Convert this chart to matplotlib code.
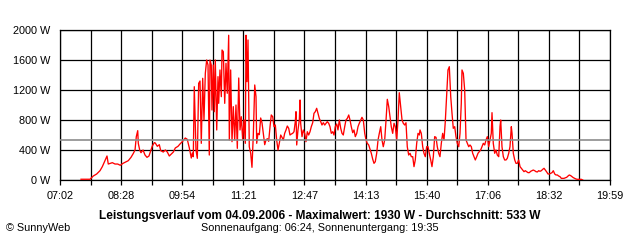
import matplotlib

matplotlib.use("Agg")
import matplotlib.pyplot as plt
import numpy as np

plt.rcParams["font.family"] = ["Liberation Sans", "DejaVu Sans"]

# time axis in minutes after midnight, power in W
START_MIN = 422   # 07:02
END_MIN = 1199    # 19:59
X_LABELS = ["07:02", "08:28", "09:54", "11:21", "12:47", "14:13", "15:40", "17:06", "18:32", "19:59"]
Y_TICKS = [0, 400, 800, 1200, 1600, 2000]

DATE = "04.09.2006"
MAX_W = 1930
AVG_W = 533
SUNRISE = "06:24"
SUNSET = "19:35"

MORNING_T = [451.7, 464.4, 469.0, 473.8, 478.5, 481.8, 485.6, 488.4, 490.2, 493.1, 495.9, 499.7,
             503.5, 507.2, 511.0, 514.8, 518.5, 522.3, 525.6, 528.0, 529.8, 531.8, 532.6, 534.6,
             536.4, 539.3, 542.1, 544.9, 547.7, 550.6, 552.4, 555.2, 556.6, 559.5, 562.3, 564.3,
             567.9, 570.8, 573.6, 576.4, 579.2, 582.1, 584.9, 588.7, 591.5, 595.3, 599.0, 601.8,
             604.7, 607.5, 608.9]
MORNING_W = [10, 10, 53, 80, 124, 178, 258, 320, 213, 222, 231, 213,
             213, 196, 222, 240, 258, 302, 355, 400, 578, 658, 489, 400,
             364, 400, 333, 302, 320, 400, 453, 498, 493, 449, 471, 391,
             373, 400, 373, 320, 347, 373, 427, 449, 480, 516, 560, 542,
             427, 293, 360]

MIDDAY_T = [610.3, 611.0, 611.7, 614.1, 616.0, 617.9, 619.8, 621.6, 623.6, 625.4, 627.3, 629.2,
            631.1, 632.9, 633.9, 635.7, 636.7, 638.6, 640.0, 641.4, 643.4, 645.2, 646.2, 648.0,
            649.9, 650.9, 652.7, 654.7, 656.5, 658.3, 660.3, 661.2, 663.1, 665.0, 666.8, 668.8,
            670.6, 672.5, 674.5, 676.3, 678.1, 680.1, 681.9, 683.8, 684.8, 686.2, 687.6, 689.4,
            691.4, 693.2, 695.1, 697.1, 698.9, 699.9, 701.7, 703.6, 705.5, 707.4, 709.2, 711.2,
            713.0, 714.9, 716.8, 718.7, 720.5, 722.5, 724.3, 726.2, 728.1, 730.0, 731.8, 733.8]
MIDDAY_W = [311, 800, 1244, 400, 289, 1289, 1320, 489, 1356, 800, 1422, 1600,
            1533, 333, 1600, 1533, 933, 1533, 911, 1600, 667, 1378, 1022, 1467,
            1111, 1733, 1711, 1022, 1556, 1156, 1930, 533, 1467, 511, 978, 533,
            1000, 422, 1360, 667, 844, 533, 800, 489, 1930, 1311, 1867, 444,
            356, 169, 600, 1267, 1111, 489, 622, 604, 827, 760, 622, 471,
            533, 551, 516, 711, 867, 844, 711, 733, 533, 400, 489, 600]

AFTERNOON_T = [735.6, 737.5, 739.4, 741.3, 743.1, 745.1, 746.9, 748.8, 750.7, 752.6, 754.4, 755.4,
               756.4, 758.2, 760.1, 761.1, 762.0, 763.9, 765.7, 767.7, 769.5, 771.4, 773.3, 775.2,
               777.0, 779.0, 780.8, 782.7, 784.6, 786.5, 788.3, 790.3, 792.1, 794.0, 796.0, 797.8,
               799.6, 801.6, 803.4, 805.3, 807.3, 809.1, 810.9, 812.9, 814.7, 816.6, 818.6, 820.4,
               822.2, 824.2, 826.0, 827.9, 829.9, 831.7, 833.5, 835.5, 837.3, 839.2, 841.2, 843.0,
               844.8, 846.8, 848.6, 850.5, 852.5, 854.3, 856.1, 858.1, 860.0, 861.8, 863.8, 865.6,
               867.4, 869.4, 871.3, 873.1, 875.1, 876.9, 878.7, 880.7, 882.6, 884.4, 886.4, 888.2,
               890.0, 892.0, 893.9, 895.7, 897.7, 899.5, 901.3, 903.3, 905.2, 907.0, 909.0, 910.8,
               912.6, 914.6, 916.5, 918.3, 920.3, 922.1, 923.9, 925.9, 927.8, 929.6]
AFTERNOON_W = [569, 533, 622, 667, 720, 689, 600, 613, 622, 644, 778, 911,
               467, 667, 800, 1067, 756, 578, 667, 622, 511, 644, 600, 644,
               711, 764, 889, 911, 956, 889, 822, 778, 733, 764, 733, 756,
               778, 756, 711, 622, 644, 600, 711, 747, 667, 800, 689, 622,
               600, 711, 800, 822, 867, 800, 711, 631, 667, 578, 622, 711,
               756, 800, 836, 800, 622, 533, 489, 467, 409, 356, 276, 222,
               244, 356, 533, 622, 711, 533, 444, 533, 800, 1076, 978, 844,
               711, 622, 756, 711, 533, 800, 1164, 978, 800, 756, 733, 764,
               444, 333, 356, 311, 311, 178, 267, 489, 622, 600]

LATE_T = [930.6, 932.4, 934.4, 936.2, 938.1, 940.0, 941.9, 943.7, 945.7, 947.5, 949.4, 951.3,
          953.2, 955.0, 957.0, 958.8, 960.7, 962.6, 964.5, 966.3, 968.3, 970.1, 972.0, 974.0,
          975.8, 977.6, 979.6, 981.4, 983.3, 985.3, 987.1, 988.9, 989.9, 991.8, 993.7, 995.6,
          997.4, 999.4, 1001.2, 1003.1, 1005.0, 1006.9, 1008.7, 1010.7, 1012.5, 1014.4, 1016.3, 1018.2,
          1020.0, 1022.0, 1023.8, 1025.7, 1027.6, 1029.5, 1031.3, 1032.3, 1034.1, 1036.1, 1037.9, 1039.8,
          1041.8, 1043.6, 1044.6, 1046.4, 1048.3, 1050.2, 1052.1, 1053.9, 1055.9, 1057.7, 1059.6, 1060.6,
          1062.4, 1064.4, 1066.2, 1068.0, 1070.0]
LATE_W = [667, 622, 444, 356, 311, 444, 444, 356, 267, 178, 311, 578,
          569, 444, 356, 311, 489, 622, 533, 778, 1133, 1467, 1511, 1111,
          889, 689, 711, 578, 489, 444, 622, 1022, 1467, 1422, 1200, 533,
          489, 444, 467, 444, 356, 311, 267, 311, 356, 378, 400, 444,
          489, 467, 533, 578, 444, 533, 622, 898, 489, 356, 400, 333,
          311, 711, 800, 444, 311, 267, 267, 289, 356, 444, 711, 622,
          356, 267, 222, 222, 267]

EVENING_T = [1071.9, 1073.7, 1075.7, 1077.5, 1079.3, 1081.3, 1083.2, 1085.0, 1087.0, 1088.8, 1090.6, 1092.6,
             1094.5, 1096.3, 1098.3, 1100.1, 1102.0, 1103.9, 1105.8, 1107.6, 1109.6, 1111.4, 1113.3, 1115.2,
             1117.1, 1118.9, 1120.9, 1122.7, 1124.6, 1126.5, 1128.4, 1130.2, 1134.0, 1137.8, 1139.7, 1141.5,
             1143.5, 1145.3, 1147.2, 1149.1, 1151.0, 1152.8, 1158.5, 1160.4]
EVENING_W = [178, 156, 133, 111, 124, 111, 98, 98, 116, 124, 133, 124,
             111, 107, 124, 116, 124, 142, 156, 133, 107, 80, 80, 89,
             98, 124, 80, 67, 67, 53, 44, 22, 22, 36, 53, 67,
             58, 44, 31, 22, 13, 9, 9, 0]

times = MORNING_T + MIDDAY_T + AFTERNOON_T + LATE_T + EVENING_T
watts = MORNING_W + MIDDAY_W + AFTERNOON_W + LATE_W + EVENING_W

W, H = 640, 240
fig = plt.figure(figsize=(W / 100, H / 100), dpi=100)
ax = fig.add_axes([60 / W, 60 / H, 550 / W, 150 / H])

ax.plot(times, watts, color="#FF0000", linewidth=0.95, zorder=3)
ax.axhline(AVG_W, color="#8C8C8C", linewidth=1.2, zorder=4)

ax.set_xlim(START_MIN, END_MIN)
ax.set_ylim(0, 2000)

# gridlines every half label step, label on every other one
grid_x = np.linspace(START_MIN, END_MIN, 2 * len(X_LABELS) - 1)
grid_labels = [X_LABELS[i // 2] if i % 2 == 0 else "" for i in range(len(grid_x))]
ax.set_xticks(grid_x)
ax.set_xticklabels(grid_labels, fontsize=7.8)
ax.set_yticks(Y_TICKS)
ax.set_yticklabels([f"{v} W" for v in Y_TICKS], fontsize=7.8)
ax.tick_params(axis="x", length=3.6, width=0.9, color="black", pad=4.2)
ax.tick_params(axis="y", length=0, pad=7)
ax.grid(color="black", linewidth=0.9, zorder=1)
ax.set_axisbelow(True)
for spine in ax.spines.values():
    spine.set_color("black")
    spine.set_linewidth(0.9)

fig.text(0.5, 1 - 216 / H,
         f"Leistungsverlauf vom {DATE} - Maximalwert: {MAX_W} W - Durchschnitt: {AVG_W} W",
         ha="center", va="center", fontsize=8.6, fontweight="bold")
fig.text(0.5, 1 - 228 / H, f"Sonnenaufgang: {SUNRISE}, Sonnenuntergang: {SUNSET}",
         ha="center", va="center", fontsize=7.8)
fig.text(6 / W, 1 - 228 / H, "\u00a9 SunnyWeb", ha="left", va="center", fontsize=7.8)

fig.savefig("out.png", dpi=100)
